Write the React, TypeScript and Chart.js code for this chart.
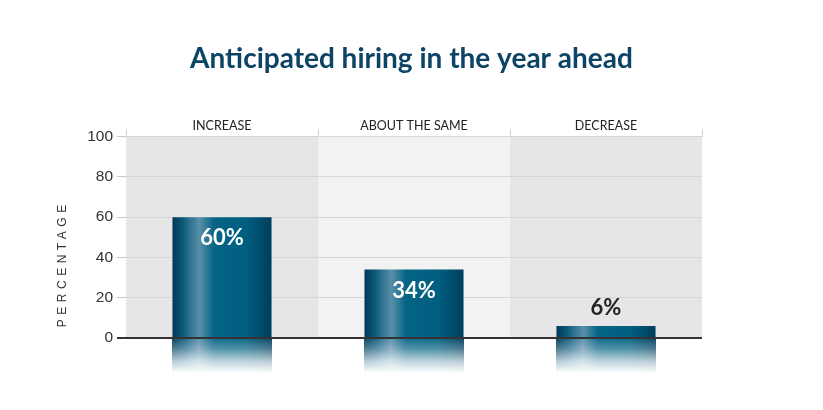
import React, { useEffect, useRef } from "react";
import { Chart, registerables } from "chart.js";

Chart.register(...registerables);

const chartTitle = "Anticipated hiring in the year ahead";
const yAxisTitle = "PERCENTAGE";
const categories = ["INCREASE", "ABOUT THE SAME", "DECREASE"];
const values = [60, 34, 6];
const valueLabels = ["60%", "34%", "6%"];
const yTicks = [0, 20, 40, 60, 80, 100];
const bandColors = ["#e6e6e6", "#f2f2f2", "#e6e6e6"];

const BAR_PCT = 0.516;

function barGradient(ctx: CanvasRenderingContext2D, left: number, right: number) {
  const g = ctx.createLinearGradient(left, 0, right, 0);
  g.addColorStop(0, "#003a57");
  g.addColorStop(0.1, "#0a587a");
  g.addColorStop(0.27, "#5a8fa9");
  g.addColorStop(0.42, "#056386");
  g.addColorStop(0.75, "#005e7f");
  g.addColorStop(1, "#003e5b");
  return g;
}

const decorPlugin = {
  id: "decor",
  beforeDraw(chart: any) {
    const { ctx, chartArea } = chart;
    const x = chart.scales.x;
    const band = x.width / categories.length;
    ctx.save();
    categories.forEach((_, i) => {
      const c = x.getPixelForValue(i);
      ctx.fillStyle = bandColors[i];
      ctx.fillRect(c - band / 2, chartArea.top, band, chartArea.bottom - chartArea.top);
    });
    ctx.restore();
  },
  afterDatasetsDraw(chart: any) {
    const { ctx, chartArea } = chart;
    const y = chart.scales.y;
    const y0 = y.getPixelForValue(0);
    const meta = chart.getDatasetMeta(0);
    ctx.save();
    // reflections below the baseline
    meta.data.forEach((el: any) => {
      const left = Math.round(el.x - el.width / 2);
      const right = Math.round(el.x + el.width / 2);
      const top = Math.round(y0);
      const h = 35;
      ctx.fillStyle = barGradient(ctx, left, right);
      ctx.fillRect(left, top, right - left, h);
      const fade = ctx.createLinearGradient(0, top, 0, top + h);
      fade.addColorStop(0, "rgba(255,255,255,0.05)");
      fade.addColorStop(0.3, "rgba(255,255,255,0.3)");
      fade.addColorStop(0.65, "rgba(255,255,255,0.72)");
      fade.addColorStop(1, "rgba(255,255,255,1)");
      ctx.fillStyle = fade;
      ctx.fillRect(left, top, right - left, h);
    });
    // zero line
    ctx.strokeStyle = "#333333";
    ctx.lineWidth = 2;
    ctx.beginPath();
    ctx.moveTo(chartArea.left - 9, y0);
    ctx.lineTo(chartArea.right, y0);
    ctx.stroke();
    // value labels
    ctx.font = "bold 22px Lato";
    ctx.textAlign = "center";
    ctx.textBaseline = "middle";
    meta.data.forEach((el: any, i: number) => {
      if (values[i] >= 20) {
        ctx.fillStyle = "#ffffff";
        ctx.fillText(valueLabels[i], el.x, el.y + 21);
      } else {
        ctx.fillStyle = "#222222";
        ctx.fillText(valueLabels[i], el.x, el.y - 18);
      }
    });
    // y axis title
    ctx.translate(63, 266);
    ctx.rotate(-Math.PI / 2);
    ctx.font = "12px 'Liberation Sans'";
    (ctx as any).letterSpacing = "4.5px";
    ctx.fillStyle = "#333333";
    ctx.textAlign = "center";
    ctx.textBaseline = "middle";
    ctx.fillText(yAxisTitle, 2.25, 0);
    ctx.restore();
  },
};

export default function App() {
  const ref = useRef<HTMLCanvasElement | null>(null);
  useEffect(() => {
    document.body.style.margin = "0";
    const canvas = ref.current;
    if (!canvas) return;
    const chart = new Chart(canvas, {
      type: "bar",
      data: {
        labels: categories,
        datasets: [
          {
            data: values,
            borderWidth: 0,
            barPercentage: BAR_PCT,
            categoryPercentage: 1,
            backgroundColor: (c: any) => {
              const ch = c.chart;
              const x = ch.scales?.x;
              if (!x || !ch.chartArea || c.dataIndex === undefined) return "#005f80";
              const center = x.getPixelForValue(c.dataIndex);
              const w = (x.width / categories.length) * BAR_PCT;
              return barGradient(ch.ctx, center - w / 2, center + w / 2);
            },
          },
        ],
      },
      options: {
        responsive: false,
        animation: false,
        layout: { padding: { left: 0, right: 0, top: 0, bottom: 72 } },
        plugins: {
          legend: { display: false },
          tooltip: { enabled: false },
          title: {
            display: true,
            text: chartTitle,
            color: "#0c4466",
            font: { family: "Lato", size: 28, weight: "bold" },
            padding: { top: 42, bottom: 30 },
          },
        },
        scales: {
          x: {
            position: "top",
            grid: {
              display: true,
              drawOnChartArea: false,
              drawTicks: true,
              tickLength: 7,
              color: "#d0d0d0",
              offset: true,
            },
            border: { display: false },
            ticks: {
              color: "#222222",
              font: { family: "Lato", size: 12.5 },
              padding: -4,
              maxRotation: 0,
              autoSkip: false,
            },
            afterFit: (s: any) => {
              s.height = 31;
            },
          },
          y: {
            min: 0,
            max: 100,
            afterBuildTicks: (s: any) => {
              s.ticks = yTicks.map((v) => ({ value: v }));
            },
            ticks: {
              color: "#333333",
              font: { family: "'Liberation Sans'", size: 15.5 },
              padding: 4,
            },
            grid: {
              color: (c: any) => (c.tick && c.tick.value === 0 ? "rgba(0,0,0,0)" : "#d6d6d6"),
              tickColor: (c: any) => (c.tick && c.tick.value === 0 ? "rgba(0,0,0,0)" : "#c8c8c8"),
              tickLength: 9,
              lineWidth: 1,
            },
            border: { display: false },
            afterFit: (s: any) => {
              s.width = 126;
            },
          },
          yRight: {
            position: "right",
            min: 0,
            max: 100,
            ticks: { display: false },
            grid: { display: false },
            border: { display: false },
            afterFit: (s: any) => {
              s.width = 121;
            },
          },
        },
      },
      plugins: [decorPlugin],
    } as any);
    return () => chart.destroy();
  }, []);
  return (
    <div style={{ width: 823, height: 410, background: "#ffffff" }}>
      <canvas ref={ref} width={823} height={410} />
    </div>
  );
}
